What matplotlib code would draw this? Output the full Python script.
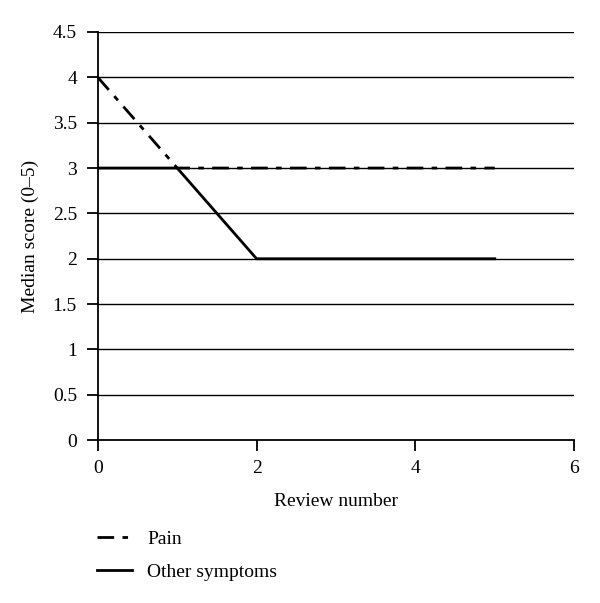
import numpy as np
from matplotlib import pyplot as plt

plt.rcParams['font.family'] = ['Liberation Serif', 'DejaVu Serif']

review = [0, 1, 2, 3, 4, 5]
pain = [4, 3, 3, 3, 3, 3]
other = [3, 3, 2, 2, 2, 2]
yticks = [0, 0.5, 1, 1.5, 2, 2.5, 3, 3.5, 4, 4.5]
xticks = [0, 2, 4, 6]

fig = plt.figure(figsize=(6, 6.03), dpi=100)
ax = fig.add_axes([0.163, 0.27, 0.794, 0.677])

for y in yticks[1:]:
    ax.axhline(y, color='black', lw=1.0, zorder=1)

ax.plot(review, pain, color='black', lw=2, dashes=(6, 3, 2, 3), label='Pain', zorder=3)
ax.plot(review, other, color='black', lw=2, label='Other symptoms', zorder=2)

ax.set_xlim(0, 6)
ax.set_ylim(0, 4.5)
ax.set_xticks(xticks)
ax.set_yticks(yticks)
ax.set_yticklabels(['0', '0.5', '1', '1.5', '2', '2.5', '3', '3.5', '4', '4.5'])
for s in ['top', 'right']:
    ax.spines[s].set_visible(False)
for s in ['left', 'bottom']:
    ax.spines[s].set_linewidth(1.3)
ax.tick_params(direction='out', length=8, width=1.3, labelsize=14)
ax.tick_params(axis='y', pad=7)
ax.tick_params(axis='x', pad=6)
ax.set_xlabel('Review number', fontsize=14, labelpad=12)
ax.set_ylabel('Median score (0\u20135)', fontsize=14, labelpad=10)

fig.legend(loc='upper left', bbox_to_anchor=(0.132, 0.15), frameon=False,
           fontsize=14, handlelength=1.8, handletextpad=0.8, labelspacing=0.8)

fig.savefig('out.png', dpi=100)
